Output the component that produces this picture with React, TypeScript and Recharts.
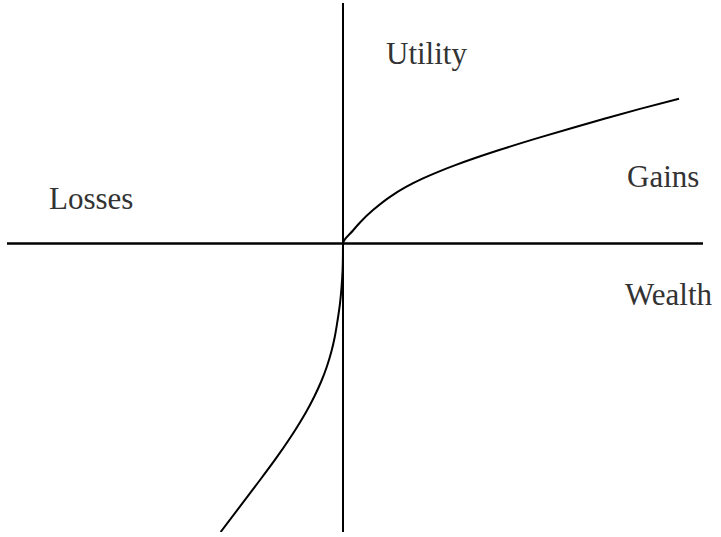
import React from "react";
import { LineChart, Line, XAxis, YAxis, ReferenceLine } from "recharts";

// value function (wealth vs utility, origin at the axes crossing)
const wealth = [
  -12.24, -8.8, -6.58, -4.57, -3.66, -2.88, -2.18, -1.62, -1.16, -0.82, -0.53, -0.3, -0.14, -0.04, -0.01, 0,
  1, 1.7, 3, 4.7, 6.3, 8, 9.7, 11.3, 13, 15.7, 19.7, 23, 26.3, 29.7, 33.6,
];
const utility = [
  -28.85, -24.32, -21.32, -18.32, -16.8, -15.32, -13.8, -12.32, -10.8, -9.32, -7.6, -5.98, -4.3, -2.65, -1.3, 0,
  1.3, 2.1, 3.34, 4.67, 5.66, 6.51, 7.24, 7.86, 8.47, 9.37, 10.61, 11.58, 12.52, 13.46, 14.47,
];

const labels = ["Utility", "Losses", "Gains", "Wealth"];
const labelPos = [
  [386, 64],
  [49, 209],
  [627, 187],
  [625, 305],
];

const data = wealth.map((w, i) => ({ wealth: w, utility: utility[i] }));

export default function App() {
  return (
    <div style={{ position: "absolute", left: 0, top: 0, width: 721, height: 537, background: "#fff" }}>
      <LineChart
        width={721}
        height={537}
        data={data}
        margin={{ top: 3, right: 18, bottom: 5, left: 7 }}
      >
        <XAxis type="number" dataKey="wealth" domain={[-33.6, 36]} hide allowDataOverflow />
        <YAxis type="number" dataKey="utility" domain={[-28.85, 24.05]} hide allowDataOverflow />
        <ReferenceLine x={0} stroke="#000" strokeWidth={2} />
        <ReferenceLine y={0} stroke="#000" strokeWidth={2.5} />
        <Line
          type="monotoneY"
          dataKey="utility"
          stroke="#000"
          strokeWidth={2}
          dot={false}
          activeDot={false}
          isAnimationActive={false}
        />
      </LineChart>
      <svg
        width={721}
        height={537}
        style={{ position: "absolute", left: 0, top: 0, pointerEvents: "none" }}
      >
        {labels.map((t, i) => (
          <text
            key={t}
            x={labelPos[i][0]}
            y={labelPos[i][1]}
            fill="#333"
            fontSize={31}
            fontFamily='"Liberation Serif", "Times New Roman", serif'
          >
            {t}
          </text>
        ))}
      </svg>
    </div>
  );
}
